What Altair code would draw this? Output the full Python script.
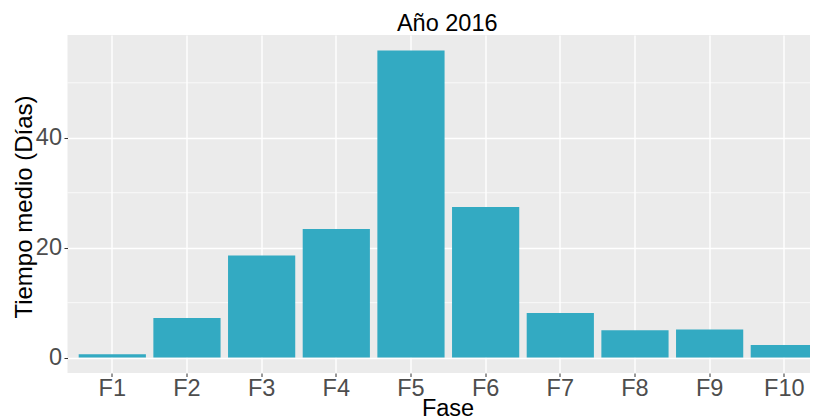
import altair as alt
import pandas as pd

fases = ["F1", "F2", "F3", "F4", "F5", "F6", "F7", "F8", "F9", "F10"]
tiempos = [0.6, 7.2, 18.6, 23.4, 55.9, 27.4, 8.1, 5.0, 5.1, 2.3]
y_major = [0, 20, 40]
y_minor = [10, 30, 50]

df = pd.DataFrame({"Fase": fases, "Tiempo": tiempos})
df_minor = pd.DataFrame({"v": y_minor})

FONT = "Liberation Sans"
BAR = "#33AAC2"

y_scale = alt.Scale(domain=[-2.8, 58.7], nice=False, zero=False)

minor = alt.Chart(df_minor).mark_rule(color="white", strokeWidth=0.7).encode(
    y=alt.Y("v:Q", scale=y_scale)
)

bars = alt.Chart(df).mark_bar(color=BAR, clip=True).encode(
    x=alt.X(
        "Fase:N",
        sort=fases,
        scale=alt.Scale(range=[0, 761.6], paddingInner=0.1, paddingOuter=0.15, round=False),
        axis=alt.Axis(
            title="Fase",
            labelAngle=0,
            grid=True,
            bandPosition=0.5,
            gridColor="white",
            gridWidth=1.4,
            domain=False,
            ticks=True,
            tickColor="#333333",
            tickSize=3.5,
            tickWidth=1,
            labelColor="#4D4D4D",
            labelFontSize=23.5,
            labelFont=FONT,
            labelBaseline="alphabetic",
            labelPadding=19.2,
            titleFont=FONT,
            titleFontSize=23.5,
            titleFontWeight="normal",
            titleColor="black",
            titleBaseline="alphabetic",
            titleX=380,
            titleY=42.5,
        ),
    ),
    y=alt.Y(
        "Tiempo:Q",
        scale=y_scale,
        axis=alt.Axis(
            title="Tiempo medio (Días)",
            values=y_major,
            grid=True,
            gridColor="white",
            gridWidth=1.4,
            domain=False,
            tickColor="#333333",
            tickSize=3.5,
            tickWidth=1,
            labelColor="#4D4D4D",
            labelFontSize=23.5,
            labelFont=FONT,
            labelPadding=2.5,
            titleFont=FONT,
            titleFontSize=24,
            titleFontWeight="normal",
            titleColor="black",
            titleBaseline="alphabetic",
            titleX=-36.5,
            titleY=171.5,
        ),
    ),
)

chart = (
    alt.layer(minor, bars)
    .properties(
        width=742.5,
        height=338,
        title=alt.TitleParams(
            "Año 2016",
            font=FONT,
            fontSize=23.5,
            fontWeight="normal",
            color="black",
            anchor="middle",
            offset=0,
            dx=8.5,
        ),
        autosize=alt.AutoSizeParams(type="none"),
        padding={"left": 59.5, "top": 27, "right": 0, "bottom": 45},
    )
    .configure(background="white")
    .configure_view(fill="#EBEBEB", stroke=None, strokeWidth=0)
)

chart.save("out.html", embed_options={"renderer": "svg", "actions": False})
